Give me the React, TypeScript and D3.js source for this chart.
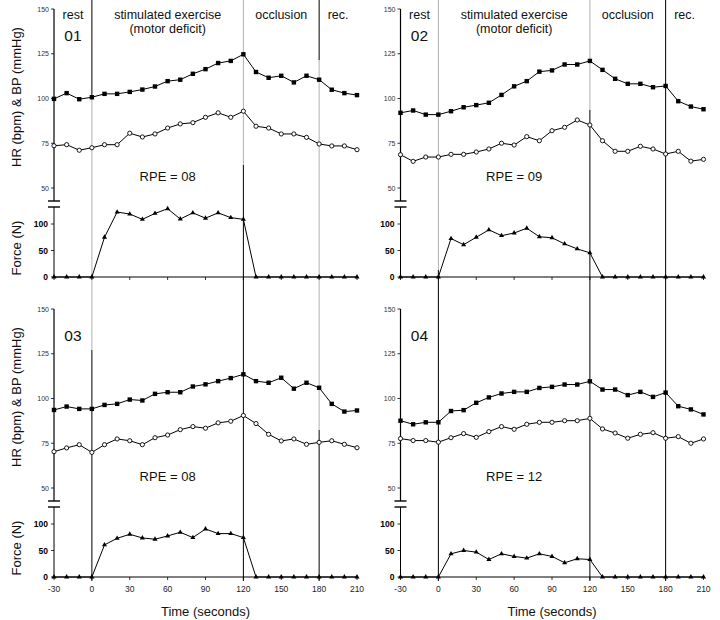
import React from "react";
import * as d3 from "d3";

// ---------- data ----------
const TIME_S = [-30, -20, -10, 0, 10, 20, 30, 40, 50, 60, 70, 80, 90, 100, 110, 120, 130, 140, 150, 160, 170, 180, 190, 200, 210];

const BP_01 = [99.8, 103, 99.6, 100.7, 102.6, 102.6, 103.7, 105, 106.7, 109.7, 110.5, 113.8, 116.4, 119.8, 121, 124.7, 114.8, 111.6, 112.7, 109, 112.7, 110.5, 104.9, 103, 101.9];
const HR_01 = [73.6, 74.2, 71.1, 72.5, 74.2, 74.2, 80.6, 78.5, 80.2, 83.5, 85.8, 86.5, 89.5, 92, 89.5, 92.9, 84.5, 83.5, 80.2, 80.2, 78.3, 74.6, 73.5, 73.5, 71.4];
const FORCE_01 = [0, 0, 0, 0, 75, 122.5, 118.8, 108.8, 120, 128.8, 109.4, 121, 111, 121, 112, 108.8, 0, 0, 0, 0, 0, 0, 0, 0, 0];

const BP_02 = [92, 93.3, 91, 91, 92.9, 95.1, 96.3, 97.6, 102, 106.8, 109.7, 115, 115.7, 119, 119, 121, 116, 111, 108.2, 108.2, 106.3, 107, 98.5, 95.5, 94];
const HR_02 = [68.6, 64.9, 67.3, 67.3, 68.8, 68.8, 70.1, 71.8, 75, 74, 78.7, 76.4, 82, 83.9, 88, 85.2, 76.4, 70.5, 70.5, 73.3, 71.8, 69, 70.5, 65, 66];
const FORCE_02 = [0, 0, 0, 0, 72.5, 61, 75, 89, 78, 83, 92, 76, 74, 62.5, 53, 45.6, 0, 0, 0, 0, 0, 0, 0, 0, 0];

const BP_03 = [93.6, 95.5, 94.2, 94.2, 96.4, 97, 99.4, 98.9, 102.6, 103.5, 103.5, 106.7, 107.9, 109.7, 111.4, 113.5, 109.7, 108.8, 111.6, 105.5, 108.8, 106, 97, 92.7, 93.3];
const HR_03 = [70.3, 72.4, 74.2, 69.9, 74.2, 77.4, 76.4, 74.2, 78.1, 79.6, 82.6, 84.3, 83.4, 86.4, 87.3, 90.5, 86, 80, 76.3, 77.4, 74.4, 75.5, 76.4, 74.4, 72.5];
const FORCE_03 = [0, 0, 0, 0, 60.6, 73, 80.6, 73.7, 71.2, 77.5, 84.3, 74.4, 90.6, 81.9, 81.9, 74.4, 0, 0, 0, 0, 0, 0, 0, 0, 0];

const BP_04 = [87.6, 85.6, 86.7, 86.7, 93, 93.5, 97.6, 100.6, 102.8, 103.7, 103.7, 105.9, 106.5, 107.8, 107.8, 109.6, 105, 105, 101.9, 103.7, 100.9, 103.3, 95.7, 93.9, 91.1];
const HR_04 = [77.6, 76.5, 76.5, 75.6, 78.1, 80.4, 78.3, 81.5, 84.3, 82.8, 85.6, 86.7, 86.7, 87.6, 87.6, 88.9, 83, 80.7, 77.8, 80, 80.9, 77.8, 78.7, 75, 77.4];
const FORCE_04 = [0, 0, 0, 0, 43.8, 50, 46.9, 33, 43.8, 38.8, 35.6, 43.8, 38.8, 26.9, 34.4, 33, 0, 0, 0, 0, 0, 0, 0, 0, 0];

const SUBJECTS = ["01", "02", "03", "04"];
const RPE = ["08", "09", "08", "12"];

const PHASE_EDGES = [-30, 0, 120, 180, 210];
const PHASE_NAMES = ["rest", "stimulated exercise", "occlusion", "rec."];
const PHASE_SUB = ["", "(motor deficit)", "", ""];
const PHASE_LINES = [0, 120, 180];

const HR_TICKS = [50, 75, 100, 125, 150];
const FORCE_TICKS = [0, 50, 100];
const TIME_TICKS = [-30, 0, 30, 60, 90, 120, 150, 180, 210];

const Y_LABEL = "HR (bpm) & BP (mmHg)";
const F_LABEL = "Force (N)";
const X_LABEL = "Time (seconds)";

// ---------- layout ----------
const COL_X = [54, 400.5];
const ROW_Y = [0, 300];
const PLOT_W = 303;
const FONT = "'Liberation Sans', Arial, Helvetica, sans-serif";
const GRAY = "#b0b0b0";

// colour segments of the phase lines (scan look), per column / per line
const LINE_SEGS: [number, number, string][][][] = [
  [
    [[0, 95, "#000"], [95, 350, GRAY], [350, 581, "#000"]],
    [[0, 165, GRAY], [165, 581, "#000"]],
    [[0, 60, "#000"], [60, 430, GRAY], [430, 581, "#000"]],
  ],
  [
    [[0, 270, GRAY], [270, 581, "#000"]],
    [[0, 110, GRAY], [110, 581, "#000"]],
    [[0, 581, "#000"]],
  ],
];

const PANELS = [
  { bp: BP_01, hr: HR_01, force: FORCE_01 },
  { bp: BP_02, hr: HR_02, force: FORCE_02 },
  { bp: BP_03, hr: HR_03, force: FORCE_03 },
  { bp: BP_04, hr: HR_04, force: FORCE_04 },
];

function Panel({ idx }: { idx: number }) {
  const col = idx % 2;
  const row = Math.floor(idx / 2);
  const ax = COL_X[col];
  const top = ROW_Y[row];
  const p = PANELS[idx];

  const x = d3.scaleLinear().domain([-30, 210]).range([ax, ax + PLOT_W]);
  const yH = d3.scaleLinear().domain([50, 150]).range([top + 188, top + 9]);
  const yF = d3.scaleLinear().domain([0, 100]).range([top + 277, top + 224]);

  const lineH = d3.line<number>().x((_, i) => x(TIME_S[i])).y((d) => yH(d));
  const lineF = d3.line<number>().x((_, i) => x(TIME_S[i])).y((d) => yF(d));
  const tri = d3.symbol().type(d3.symbolTriangle).size(11)() as string;

  const breakTop = top + 201;
  const breakBot = top + 207;

  return (
    <g>
      {/* phase lines */}
      {row === 0 &&
        PHASE_LINES.map((t, li) =>
          LINE_SEGS[col][li].map(([y0, y1, c], si) => (
            <line key={`pl${li}-${si}`} x1={x(t)} x2={x(t)} y1={y0} y2={y1} stroke={c} strokeWidth={1} />
          ))
        )}

      {/* HR/BP axis */}
      <line x1={ax} x2={ax} y1={yH(150)} y2={breakTop} stroke="#000" strokeWidth={1.2} />
      {HR_TICKS.map((v) => (
        <g key={`ht${v}`}>
          <line x1={ax - 3} x2={ax} y1={yH(v)} y2={yH(v)} stroke="#000" strokeWidth={0.8} />
          <text x={ax - 5} y={yH(v) + 2.5} textAnchor="end" fontSize={7} fill="#333" fontFamily={FONT}>
            {v}
          </text>
        </g>
      ))}
      {/* axis break */}
      <line x1={ax - 6} x2={ax + 6} y1={breakTop} y2={breakTop} stroke="#000" strokeWidth={1.4} />
      <line x1={ax - 6} x2={ax + 6} y1={breakBot} y2={breakBot} stroke="#000" strokeWidth={1.4} />

      {/* force axis */}
      <line x1={ax} x2={ax} y1={breakBot} y2={yF(0)} stroke="#000" strokeWidth={1} />
      {FORCE_TICKS.map((v) => (
        <g key={`ft${v}`}>
          <line x1={ax - 3} x2={ax} y1={yF(v)} y2={yF(v)} stroke="#000" strokeWidth={0.8} />
          <text
            x={ax - 6}
            y={yF(v) + 3}
            textAnchor="end"
            fontSize={8.5}
            fontWeight="bold"
            fontFamily="'Liberation Sans Narrow', 'Liberation Sans', Arial, sans-serif"
            fill="#000"
          >
            {v}
          </text>
        </g>
      ))}
      {/* time axis */}
      <line x1={ax} x2={ax + PLOT_W} y1={yF(0)} y2={yF(0)} stroke="#000" strokeWidth={1} />
      {TIME_TICKS.map((t) => (
        <line key={`xt${t}`} x1={x(t)} x2={x(t)} y1={yF(0)} y2={yF(0) + 3} stroke="#000" strokeWidth={0.8} />
      ))}
      {row === 1 &&
        TIME_TICKS.map((t) => (
          <text key={`xl${t}`} x={x(t)} y={top + 292} textAnchor="middle" fontSize={8.5} fill="#222" fontFamily={FONT}>
            {t}
          </text>
        ))}

      {/* phase headers */}
      {row === 0 &&
        PHASE_NAMES.map((n, i) => {
          const cx = x((PHASE_EDGES[i] + PHASE_EDGES[i + 1]) / 2);
          return (
            <g key={`ph${i}`}>
              <text x={cx} y={top + 19} textAnchor="middle" fontSize={12.5} fontFamily={FONT} fill="#111">
                {n}
              </text>
              {PHASE_SUB[i] && (
                <text x={cx} y={top + 33} textAnchor="middle" fontSize={12.5} fontFamily={FONT} fill="#111">
                  {PHASE_SUB[i]}
                </text>
              )}
            </g>
          );
        })}

      {/* subject number */}
      <text x={x(-15)} y={top + 41} textAnchor="middle" fontSize={15.5} fontFamily={FONT} fill="#111">
        {SUBJECTS[idx]}
      </text>
      {/* RPE */}
      <text x={x(60)} y={top + 181} textAnchor="middle" fontSize={13} fontFamily={FONT} fill="#111">
        {`RPE = ${RPE[idx]}`}
      </text>

      {/* series */}
      <path d={lineH(p.bp) || ""} fill="none" stroke="#000" strokeWidth={1} />
      <path d={lineH(p.hr) || ""} fill="none" stroke="#000" strokeWidth={1} />
      <path d={lineF(p.force) || ""} fill="none" stroke="#000" strokeWidth={1} />
      {p.bp.map((v, i) => (
        <rect key={`bp${i}`} x={x(TIME_S[i]) - 2.2} y={yH(v) - 2.2} width={4.4} height={4.4} fill="#000" />
      ))}
      {p.hr.map((v, i) => (
        <circle key={`hr${i}`} cx={x(TIME_S[i])} cy={yH(v)} r={2.1} fill="#fff" stroke="#000" strokeWidth={0.9} />
      ))}
      {p.force.map((v, i) => (
        <path key={`f${i}`} d={tri} transform={`translate(${x(TIME_S[i])},${yF(v)})`} fill="#000" />
      ))}

      {/* axis titles */}
      {col === 0 && (
        <>
          <text
            transform={`translate(21,${top + 97}) rotate(-90)`}
            textAnchor="middle"
            fontSize={13}
            fontFamily={FONT}
            fill="#111"
          >
            {Y_LABEL}
          </text>
          <text
            transform={`translate(21,${top + 248}) rotate(-90)`}
            textAnchor="middle"
            fontSize={13}
            fontFamily={FONT}
            fill="#111"
          >
            {F_LABEL}
          </text>
        </>
      )}
      {row === 1 && (
        <text x={x(90)} y={top + 316} textAnchor="middle" fontSize={13} fontFamily={FONT} fill="#111">
          {X_LABEL}
        </text>
      )}
    </g>
  );
}

export default function App() {
  return (
    <svg
      width={720}
      height={620}
      viewBox="0 0 720 620"
      style={{ position: "absolute", left: 0, top: 0, background: "#fff" }}
    >
      <rect x={0} y={0} width={720} height={620} fill="#fff" />
      {[0, 1, 2, 3].map((i) => (
        <Panel key={i} idx={i} />
      ))}
    </svg>
  );
}
